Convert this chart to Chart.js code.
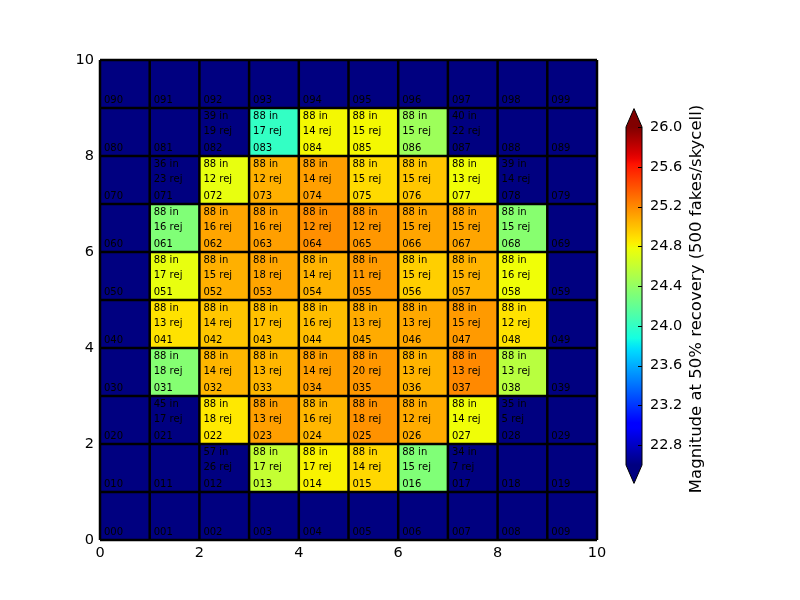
<!DOCTYPE html>
<html>
<head>
<meta charset="utf-8">
<script src="https://cdn.jsdelivr.net/npm/chart.js@4.4.0/dist/chart.umd.min.js"></script>
<style>
  html, body { margin: 0; padding: 0; background: #fff; }
  #wrap { position: relative; width: 800px; height: 600px; }
  #wrap canvas { position: absolute; left: 0; top: 0; }
</style>
</head>
<body>
<div id="wrap">
  <canvas id="grid" width="800" height="600"></canvas>
  <canvas id="cbar" width="800" height="600"></canvas>
</div>
<script>
// Skycell grid: row 0 is the bottom row (y 0..1), column 0 the left one (x 0..1)
// null = below the colour range (drawn in the "under" colour)
const magRows = [
    [null, null, null, null, null, null, null, null, null, null],
    [null, null, null, 24.60, 24.82, 24.92, 24.32, null, null, null],
    [null, null, 24.86, 25.12, 25.04, 25.17, 25.08, 24.78, null, null],
    [null, 24.34, 25.04, 25.04, 25.12, 25.15, 25.05, 25.20, 24.55, null],
    [null, 24.88, 24.98, 25.00, 25.01, 25.08, 25.09, 25.14, 24.88, null],
    [null, 24.75, 25.06, 25.10, 25.05, 25.14, 24.95, 25.05, 24.78, null],
    [null, 24.32, 25.10, 25.12, 25.18, 25.15, 25.10, 25.10, 24.35, null],
    [null, null, 24.75, 25.06, 25.12, 24.91, 24.98, 24.78, null, null],
    [null, null, null, 24.00, 24.80, 24.80, 24.44, null, null, null],
    [null, null, null, null, null, null, null, null, null, null]
];

// fakes injected ("in") and rejected ("rej") per cell, null = no text
const inRows = [
    [null, null, null, null, null, null, null, null, null, null],
    [null, null, 57, 88, 88, 88, 88, 34, null, null],
    [null, 45, 88, 88, 88, 88, 88, 88, 35, null],
    [null, 88, 88, 88, 88, 88, 88, 88, 88, null],
    [null, 88, 88, 88, 88, 88, 88, 88, 88, null],
    [null, 88, 88, 88, 88, 88, 88, 88, 88, null],
    [null, 88, 88, 88, 88, 88, 88, 88, 88, null],
    [null, 36, 88, 88, 88, 88, 88, 88, 39, null],
    [null, null, 39, 88, 88, 88, 88, 40, null, null],
    [null, null, null, null, null, null, null, null, null, null]
];
const rejRows = [
    [null, null, null, null, null, null, null, null, null, null],
    [null, null, 26, 17, 17, 14, 15, 7, null, null],
    [null, 17, 18, 13, 16, 18, 12, 14, 5, null],
    [null, 18, 14, 13, 14, 20, 13, 13, 13, null],
    [null, 13, 14, 17, 16, 13, 13, 15, 12, null],
    [null, 17, 15, 18, 14, 11, 15, 15, 16, null],
    [null, 16, 16, 16, 12, 12, 15, 15, 15, null],
    [null, 23, 12, 12, 14, 15, 15, 13, 14, null],
    [null, null, 19, 17, 14, 15, 15, 22, null, null],
    [null, null, null, null, null, null, null, null, null, null]
];

const axisTicks = [0, 2, 4, 6, 8, 10];
const cbTicks = [22.8, 23.2, 23.6, 24.0, 24.4, 24.8, 25.2, 25.6, 26.0];
const cbMin = 22.6;
const cbMax = 26.0;
const cbTitle = 'Magnitude at 50% recovery (500 fakes/skycell)';

const FONT = 'DejaVu Sans, Liberation Sans, sans-serif';
const UNDER = '#000080';
const OVER = '#800000';

// matplotlib "jet" segment data
const jetSeg = {
    r: [[0, 0], [0.35, 0], [0.66, 1], [0.89, 1], [1, 0.5]],
    g: [[0, 0], [0.125, 0], [0.375, 1], [0.64, 1], [0.91, 0], [1, 0]],
    b: [[0, 0.5], [0.11, 1], [0.34, 1], [0.65, 0], [1, 0]]
};

function segValue(seg, t) {
    for (let i = 1; i < seg.length; i++) {
        if (t <= seg[i][0]) {
            const [t0, v0] = seg[i - 1];
            const [t1, v1] = seg[i];
            return v0 + (v1 - v0) * (t - t0) / (t1 - t0);
        }
    }
    return seg[seg.length - 1][1];
}

function jet(t) {
    t = Math.min(1, Math.max(0, t));
    const r = Math.round(255 * segValue(jetSeg.r, t));
    const g = Math.round(255 * segValue(jetSeg.g, t));
    const b = Math.round(255 * segValue(jetSeg.b, t));
    return `rgb(${r},${g},${b})`;
}

function magColor(v) {
    if (v === null) return UNDER;
    if (v > cbMax) return OVER;
    if (v < cbMin) return UNDER;
    return jet((v - cbMin) / (cbMax - cbMin));
}

// one point per cell centre, so the dataset carries the data
const cells = [];
magRows.forEach((row, r) => {
    row.forEach((v, c) => {
        cells.push({ x: c + 0.5, y: r + 0.5, row: r, col: c, mag: v,
                     nIn: inRows[r][c], nRej: rejRows[r][c] });
    });
});

const cellPlugin = {
    id: 'cells',
    beforeDatasetsDraw(chart) {
        const { ctx, scales: { x, y }, chartArea } = chart;
        const pts = chart.data.datasets[0].data;

        ctx.save();
        pts.forEach(p => {
            const x0 = x.getPixelForValue(p.col);
            const x1 = x.getPixelForValue(p.col + 1);
            const y0 = y.getPixelForValue(p.row + 1);
            const y1 = y.getPixelForValue(p.row);
            ctx.fillStyle = magColor(p.mag);
            ctx.fillRect(x0, y0, x1 - x0, y1 - y0);
        });

        // cell edges
        ctx.strokeStyle = '#000';
        ctx.lineWidth = 2.5;
        ctx.beginPath();
        for (let i = 0; i <= 10; i++) {
            const px = x.getPixelForValue(i);
            ctx.moveTo(px, chartArea.top);
            ctx.lineTo(px, chartArea.bottom);
            const py = y.getPixelForValue(i);
            ctx.moveTo(chartArea.left, py);
            ctx.lineTo(chartArea.right, py);
        }
        ctx.stroke();

        // cell labels
        ctx.fillStyle = '#000';
        ctx.font = `10px ${FONT}`;
        ctx.textBaseline = 'alphabetic';
        ctx.textAlign = 'left';
        pts.forEach(p => {
            const x0 = x.getPixelForValue(p.col);
            const top = y.getPixelForValue(p.row + 1);
            const bottom = y.getPixelForValue(p.row);
            const tx = x0 + 4;
            if (p.nIn !== null) {
                ctx.fillText(`${p.nIn} in`, tx, top + 11);
                ctx.fillText(`${p.nRej} rej`, tx, top + 26);
            }
            const id = String(p.row * 10 + p.col).padStart(3, '0');
            ctx.fillText(id, tx, bottom - 5);
        });
        ctx.restore();
    }
};

new Chart(document.getElementById('grid'), {
    type: 'scatter',
    data: {
        datasets: [{
            data: cells,
            pointRadius: 0,
            pointHoverRadius: 0
        }]
    },
    options: {
        responsive: false,
        animation: false,
        events: [],
        layout: { padding: { top: 60, right: 203, left: 0, bottom: 0 } },
        plugins: {
            legend: { display: false },
            tooltip: { enabled: false }
        },
        scales: {
            x: {
                type: 'linear',
                min: 0,
                max: 10,
                afterBuildTicks: s => { s.ticks = axisTicks.map(v => ({ value: v })); },
                afterFit: s => { s.height = 60; },
                grid: { display: false, drawTicks: false },
                border: { display: false },
                ticks: { color: '#000', padding: 5, font: { family: FONT, size: 14.5 } }
            },
            y: {
                type: 'linear',
                min: 0,
                max: 10,
                afterBuildTicks: s => { s.ticks = axisTicks.map(v => ({ value: v })); },
                afterFit: s => { s.width = 100; },
                grid: { display: false, drawTicks: false },
                border: { display: false },
                ticks: { color: '#000', padding: 6, font: { family: FONT, size: 14.5 } }
            }
        }
    },
    plugins: [cellPlugin]
});

// colour bar: a single floating bar spanning the colour range
function jetGradient(chart) {
    const area = chart.chartArea;
    if (!area) return UNDER;
    const g = chart.ctx.createLinearGradient(0, area.bottom, 0, area.top);
    for (let i = 0; i <= 64; i++) {
        g.addColorStop(i / 64, jet(i / 64));
    }
    return g;
}

const cbarPlugin = {
    id: 'cbarExtras',
    afterDraw(chart) {
        const { ctx, chartArea: a, scales: { y } } = chart;
        const ext = (a.right - a.left) * 1.15;
        const mid = (a.left + a.right) / 2;
        ctx.save();
        // over / under extensions
        ctx.fillStyle = OVER;
        ctx.beginPath();
        ctx.moveTo(a.left, a.top);
        ctx.lineTo(mid, a.top - ext);
        ctx.lineTo(a.right, a.top);
        ctx.closePath();
        ctx.fill();
        ctx.fillStyle = UNDER;
        ctx.beginPath();
        ctx.moveTo(a.left, a.bottom);
        ctx.lineTo(mid, a.bottom + ext);
        ctx.lineTo(a.right, a.bottom);
        ctx.closePath();
        ctx.fill();

        // outline
        ctx.strokeStyle = '#000';
        ctx.lineWidth = 1;
        ctx.beginPath();
        ctx.moveTo(a.left, a.top);
        ctx.lineTo(mid, a.top - ext);
        ctx.lineTo(a.right, a.top);
        ctx.lineTo(a.right, a.bottom);
        ctx.lineTo(mid, a.bottom + ext);
        ctx.lineTo(a.left, a.bottom);
        ctx.closePath();
        ctx.stroke();

        // inward tick marks
        ctx.beginPath();
        cbTicks.forEach(v => {
            const py = Math.round(y.getPixelForValue(v)) + 0.5;
            ctx.moveTo(a.right, py);
            ctx.lineTo(a.right - 4, py);
        });
        ctx.stroke();

        // title, reading bottom to top
        ctx.fillStyle = '#000';
        ctx.font = `16.5px ${FONT}`;
        ctx.textAlign = 'center';
        ctx.textBaseline = 'middle';
        ctx.translate(697, 299);
        ctx.rotate(-Math.PI / 2);
        ctx.fillText(cbTitle, 0, 0);
        ctx.restore();
    }
};

new Chart(document.getElementById('cbar'), {
    type: 'bar',
    data: {
        labels: ['cb'],
        datasets: [{
            data: [[cbMin, cbMax]],
            backgroundColor: c => jetGradient(c.chart),
            borderWidth: 0,
            barPercentage: 1,
            categoryPercentage: 1
        }]
    },
    options: {
        responsive: false,
        animation: false,
        events: [],
        layout: { padding: { top: 127, bottom: 135, left: 626, right: 0 } },
        plugins: {
            legend: { display: false },
            tooltip: { enabled: false }
        },
        scales: {
            x: { display: false },
            y: {
                position: 'right',
                min: cbMin,
                max: cbMax,
                afterBuildTicks: s => { s.ticks = cbTicks.map(v => ({ value: v })); },
                afterFit: s => { s.width = 158; },
                grid: { display: false, drawTicks: false },
                border: { display: false },
                ticks: {
                    color: '#000',
                    padding: 8,
                    font: { family: FONT, size: 14.5 },
                    callback: v => Number(v).toFixed(1)
                }
            }
        }
    },
    plugins: [cbarPlugin]
});
</script>
</body>
</html>
